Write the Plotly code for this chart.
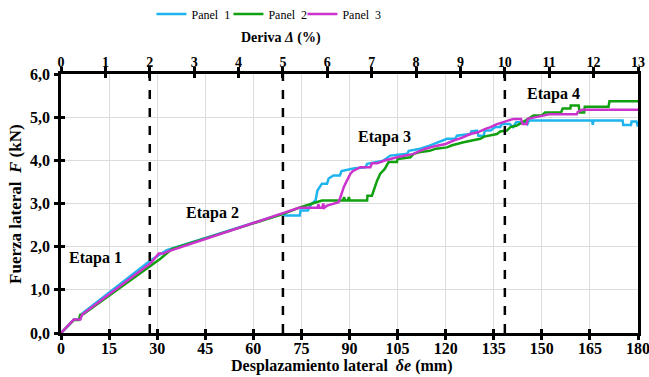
import plotly.graph_objects as go

# ---------------- data ----------------
p1_x = [0, 4, 5.9, 6.6, 27.9, 33, 69, 70, 74.5, 74.7, 77, 78, 79.4, 80, 81.4, 83, 83.5, 85, 87, 87.5, 91.2, 95, 95.5,
        100.5, 102.7, 106.9, 108, 108.5, 112.1, 115, 117, 120.4, 123, 123.5, 127.7, 128, 129.8, 130.2, 131.9, 132.2,
        134, 135.5, 137, 137.5, 140, 141, 142, 145, 145.5, 146, 148.5, 165.7, 165.9, 166.1, 175.2, 175.4, 177.8, 178,
        179.5, 180]
p1_y = [0, 0.31, 0.31, 0.45, 1.68, 1.92, 2.76, 2.72, 2.72, 2.84, 2.84, 2.98, 3.07, 3.30, 3.46, 3.46, 3.58, 3.65, 3.65,
        3.75, 3.81, 3.84, 3.92, 3.99, 4.11, 4.15, 4.15, 4.22, 4.27, 4.34, 4.40, 4.50, 4.50, 4.57, 4.61, 4.67, 4.69,
        4.57, 4.57, 4.69, 4.69, 4.77, 4.77, 4.84, 4.84, 4.77, 4.88, 4.88, 4.84, 4.92, 4.92, 4.92, 4.82, 4.92, 4.92,
        4.82, 4.82, 4.90, 4.90, 4.78]

p2_x = [0, 4, 5.5, 6, 7, 28.9, 31, 34.7, 69, 75, 81.4, 88, 88.3, 88.6, 89.5, 89.8, 90.1, 95.5, 95.6, 97, 97.5, 98.6,
        99.6, 101, 102.2, 104.8, 105, 109, 110, 112.1, 115, 117, 120.4, 122, 125.6, 128, 130.8, 132, 136, 137, 139.1,
        140.2, 142, 144, 147.4, 150, 151, 156, 156.5, 158.9, 159, 161.5, 161.8, 163.2, 163.4, 170.8, 171.1, 180]
p2_y = [0, 0.30, 0.30, 0.42, 0.44, 1.60, 1.72, 1.95, 2.75, 2.92, 3.07, 3.07, 3.15, 3.07, 3.07, 3.15, 3.07, 3.07, 3.18,
        3.18, 3.30, 3.53, 3.69, 3.80, 3.96, 3.96, 4.03, 4.07, 4.15, 4.19, 4.22, 4.27, 4.30, 4.35, 4.42, 4.46, 4.50,
        4.55, 4.61, 4.67, 4.69, 4.77, 4.80, 4.88, 5.04, 5.04, 5.11, 5.11, 5.20, 5.20, 5.27, 5.27, 5.11, 5.11, 5.24,
        5.24, 5.37, 5.37]

p3_x = [0, 4, 6, 6.6, 28, 30.5, 32, 33, 69, 74.2, 80, 80.3, 80.6, 81.5, 81.8, 82.1, 83, 86.6, 87.2, 88.2, 89, 90.3,
        91, 93.4, 96.5, 97, 98.6, 100.7, 104.8, 108, 110, 111.1, 113.7, 117.3, 120, 122.5, 125, 127.7, 130, 132.4,
        134, 136, 138, 141.2, 143.5, 144, 145.3, 145.6, 147.4, 152.6, 160.9, 161.2, 162.5, 180]
p3_y = [0, 0.31, 0.31, 0.43, 1.62, 1.84, 1.84, 1.88, 2.77, 2.90, 2.90, 2.98, 2.90, 2.90, 3.00, 2.90, 2.95, 3.03, 3.15,
        3.38, 3.50, 3.69, 3.75, 3.84, 3.84, 3.93, 3.93, 3.99, 4.07, 4.11, 4.15, 4.19, 4.27, 4.34, 4.38, 4.46, 4.52,
        4.61, 4.65, 4.73, 4.77, 4.84, 4.88, 4.96, 4.96, 4.84, 4.84, 4.96, 4.99, 5.07, 5.07, 5.12, 5.17, 5.17]

series_names = ["Panel\u00a0 1", "Panel\u00a0 2", "Panel\u00a0 3"]
series_colors = ["#1EB4EE", "#10A010", "#CC33CC"]

x_ticks = [0, 15, 30, 45, 60, 75, 90, 105, 120, 135, 150, 165, 180]
drift_ticks = list(range(0, 14))
y_ticks = [0, 1, 2, 3, 4, 5, 6]
y_ticktext = ["0,0", "1,0", "2,0", "3,0", "4,0", "5,0", "6,0"]
stage_drifts = [2, 5, 10]
stage_labels = ["Etapa 1", "Etapa 2", "Etapa 3", "Etapa 4"]
stage_label_x = [10.8, 47.2, 101, 153.6]
stage_label_y = [1.73, 2.79, 4.55, 5.54]

# ---------------- figure ----------------
FONT = "Times New Roman, Liberation Serif, DejaVu Serif, serif"
fig = go.Figure()
legend_ids = ["legend", "legend2", "legend3"]
for xs, ys, name, col, lg in zip([p1_x, p2_x, p3_x], [p1_y, p2_y, p3_y], series_names, series_colors, legend_ids):
    fig.add_trace(go.Scatter(x=xs, y=ys, mode="lines", name=name, legend=lg,
                             line=dict(color=col, width=2.5)))

# invisible trace to activate the drift axis
fig.add_trace(go.Scatter(x=[0, 13], y=[0, 0], xaxis="x2", mode="lines",
                         line=dict(width=0), showlegend=False, hoverinfo="skip"))

tickfont = dict(family=FONT, size=16, color="black", weight="bold")
toptickfont = dict(family=FONT, size=14, color="black", weight="bold")


def legend_at(xpx):
    return dict(orientation="h", x=(xpx - 60.5) / 577.2, xanchor="left", yref="container",
                y=0.963, yanchor="middle", font=dict(family=FONT, size=12, color="black"),
                itemwidth=30, bgcolor="rgba(0,0,0,0)")


fig.update_layout(
    width=649, height=377,
    margin=dict(l=61, r=11, t=74, b=44, autoexpand=False),
    plot_bgcolor="white", paper_bgcolor="white",
    font=dict(family=FONT),
    showlegend=True,
    legend=legend_at(151), legend2=legend_at(228), legend3=legend_at(302),
    xaxis=dict(range=[0, 180], tickvals=x_ticks, ticks="outside", ticklen=4, tickwidth=2.5,
               tickcolor="black", showline=True, linecolor="black", linewidth=2.5,
               showgrid=True, gridcolor="#dcdcdc", gridwidth=1, zeroline=False,
               tickfont=tickfont, ticklabelstandoff=-5, ticklabeloverflow="allow"),
    xaxis2=dict(range=[0, 13], tickvals=drift_ticks, overlaying="x", side="top", anchor="y",
                ticks="outside", ticklen=4, tickwidth=2.5, tickcolor="black",
                showline=True, linecolor="black", linewidth=2.5, showgrid=False, zeroline=False,
                tickfont=toptickfont, ticklabelstandoff=-5, ticklabeloverflow="allow"),
    xaxis3=dict(range=[0, 180], tickvals=x_ticks, overlaying="x", side="bottom", anchor="y",
                ticks="inside", ticklen=4, tickwidth=2.5, tickcolor="black",
                showticklabels=False, showline=False, showgrid=False, zeroline=False),
    xaxis4=dict(range=[0, 13], tickvals=drift_ticks, overlaying="x", side="top", anchor="y",
                ticks="inside", ticklen=4, tickwidth=2.5, tickcolor="black",
                showticklabels=False, showline=False, showgrid=False, zeroline=False),
    yaxis=dict(range=[0, 6], tickvals=y_ticks, ticktext=y_ticktext, ticks="outside", ticklen=4,
               tickwidth=2.5, tickcolor="black", showline=True, linecolor="black", linewidth=2.5,
               mirror=True, showgrid=True, gridcolor="#dcdcdc", gridwidth=1, zeroline=False,
               tickfont=tickfont, ticklabelstandoff=1),
    yaxis2=dict(range=[0, 6], tickvals=y_ticks, overlaying="y", side="left", anchor="x",
                ticks="inside", ticklen=4, tickwidth=2.5, tickcolor="black",
                showticklabels=False, showline=False, showgrid=False, zeroline=False),
)

# dummy traces for overlay tick axes
fig.add_trace(go.Scatter(x=[0], y=[0], xaxis="x3", yaxis="y2", mode="markers",
                         marker=dict(opacity=0), showlegend=False, hoverinfo="skip"))
fig.add_trace(go.Scatter(x=[0], y=[0], xaxis="x4", yaxis="y2", mode="markers",
                         marker=dict(opacity=0), showlegend=False, hoverinfo="skip"))

# stage boundaries
for d in stage_drifts:
    fig.add_shape(type="line", xref="x2", yref="y", x0=d, x1=d, y0=0, y1=6,
                  line=dict(color="black", width=2.5, dash="dash"))

for t, sx, sy in zip(stage_labels, stage_label_x, stage_label_y):
    fig.add_annotation(x=sx, y=sy, xref="x", yref="y", text="<b>" + t + "</b>", showarrow=False,
                       font=dict(family=FONT, size=16, color="black"))

# axis titles
fig.add_annotation(xref="paper", yref="paper", x=0.486, y=-0.128, yanchor="middle",
                   text="<b>Desplazamiento lateral  <i>δe</i> (mm)</b>", showarrow=False,
                   font=dict(family=FONT, size=16, color="black"))
fig.add_annotation(xref="paper", yref="paper", x=0.382, y=1.139, yanchor="middle",
                   text="<b>Deriva <i>Δ</i> (%)</b>", showarrow=False,
                   font=dict(family=FONT, size=14, color="black"))
fig.add_annotation(xref="paper", yref="paper", x=-0.079, y=0.5, xanchor="center", yanchor="middle",
                   textangle=-90, text="<b>Fuerza lateral  <i>F</i> (kN)</b>", showarrow=False,
                   font=dict(family=FONT, size=17, color="black"))

fig.write_html("out.html")
